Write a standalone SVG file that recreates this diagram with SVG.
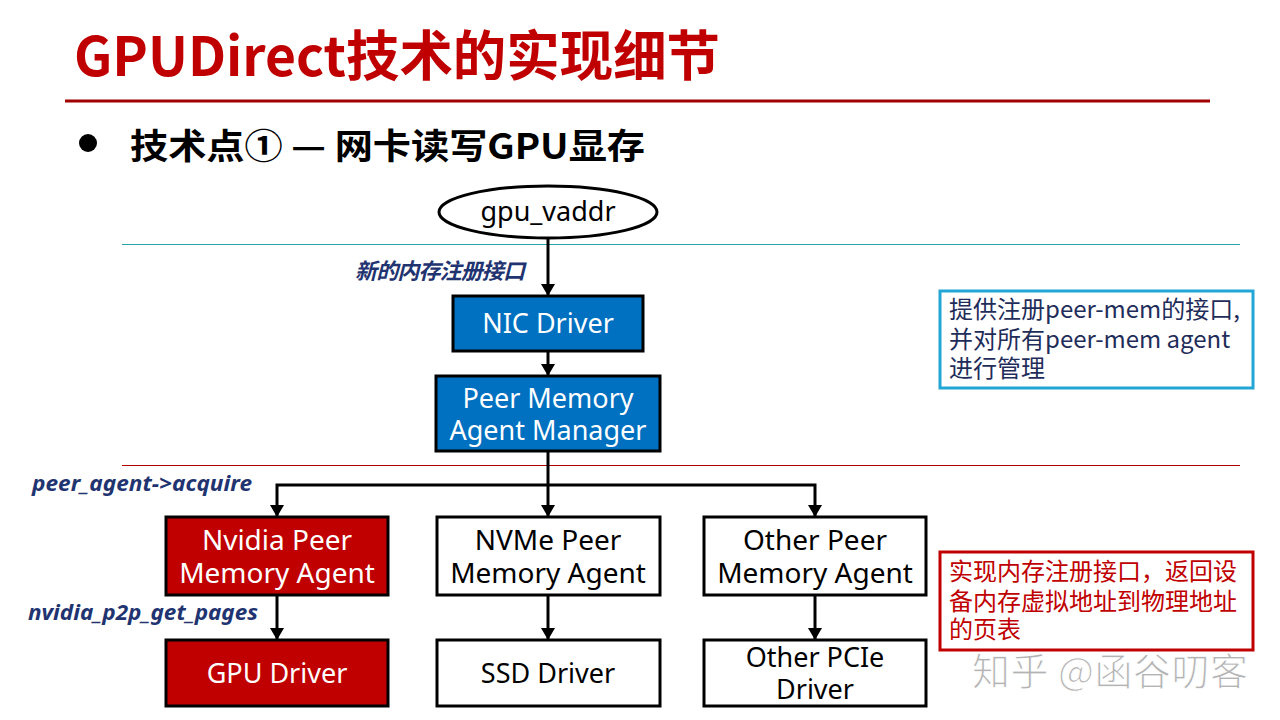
<svg xmlns="http://www.w3.org/2000/svg" width="1280" height="720" viewBox="0 0 1280 720">
<defs>
<marker id="arr" viewBox="0 0 12 14" refX="12" refY="7" markerWidth="12" markerHeight="14" markerUnits="userSpaceOnUse" orient="auto">
<path d="M0,0 L12,7 L0,14 Z" fill="#000"/>
</marker>
</defs>
<style>
.t{font-family:"Noto Sans","Noto Sans CJK SC",sans-serif;font-size:27px;text-anchor:middle}
.t2{font-size:28px}
.w{fill:#fff}
.k{fill:#000}
.blue{fill:#0070C0;stroke:#000;stroke-width:3}
.red{fill:#C00000;stroke:#000;stroke-width:3}
.wh{fill:#fff;stroke:#000;stroke-width:3}
.lbl{font-family:"Noto Sans","Noto Sans CJK SC",sans-serif;font-size:22px;font-weight:bold;font-style:italic;fill:#1F3470}
.c{fill:none;stroke:#000;stroke-width:3}
.note{font-family:"Noto Sans CJK SC","Noto Sans",sans-serif;font-size:24px}
</style>
<rect width="1280" height="720" fill="#fff"/>
<g id="title">
<text x="74" y="76" font-family="Noto Sans CJK SC, sans-serif" font-size="54" font-weight="bold" fill="#C00000" textLength="646" lengthAdjust="spacingAndGlyphs">GPUDirect技术的实现细节</text>
<line x1="65" y1="101" x2="1210" y2="101" stroke="#A00000" stroke-width="3"/>
</g>
<g id="subtitle">
<circle cx="88" cy="143" r="9" fill="#000"/>
<text x="130" y="159" font-family="Noto Sans CJK SC, sans-serif" font-size="35" font-weight="bold" fill="#000" textLength="515" lengthAdjust="spacingAndGlyphs">技术点① — 网卡读写GPU显存</text>
</g>
<g id="separators">
<line x1="122" y1="244.5" x2="1240" y2="244.5" stroke="#2AA5A5" stroke-width="1.2"/>
<line x1="122" y1="465.5" x2="1240" y2="465.5" stroke="#B00000" stroke-width="1.2"/>
</g>
<g id="connectors">
<path class="c" d="M548 238 V296" marker-end="url(#arr)"/>
<path class="c" d="M548 351 V376" marker-end="url(#arr)"/>
<path class="c" d="M548 451 V517" marker-end="url(#arr)"/>
<path class="c" d="M548 485 H277 V517" marker-end="url(#arr)"/>
<path class="c" d="M548 485 H815 V517" marker-end="url(#arr)"/>
<path class="c" d="M277 595 V640" marker-end="url(#arr)"/>
<path class="c" d="M548 595 V640" marker-end="url(#arr)"/>
<path class="c" d="M815 595 V640" marker-end="url(#arr)"/>
<text class="lbl" x="355" y="279" font-size="21" textLength="170">新的内存注册接口</text>
<text class="lbl" x="32" y="491" textLength="220" lengthAdjust="spacingAndGlyphs">peer_agent-&gt;acquire</text>
<text class="lbl" x="28" y="620" textLength="230" lengthAdjust="spacingAndGlyphs">nvidia_p2p_get_pages</text>
</g>
<g id="gpu_vaddr">
<ellipse cx="548" cy="212" rx="109" ry="26" fill="#fff" stroke="#000" stroke-width="3"/>
<text class="t k" x="548" y="221">gpu_vaddr</text>
</g>
<g id="nic_driver">
<rect class="blue" x="453" y="296" width="190" height="55"/>
<text class="t w" x="548" y="333">NIC Driver</text>
</g>
<g id="manager">
<rect class="blue" x="436" y="376" width="224" height="75"/>
<text class="t w" x="548" y="408">Peer Memory</text>
<text class="t w" x="548" y="440">Agent Manager</text>
</g>
<g id="nvidia_agent">
<rect class="red" x="166" y="517" width="222" height="78"/>
<text class="t t2 w" x="277" y="550">Nvidia Peer</text>
<text class="t t2 w" x="277" y="583">Memory Agent</text>
</g>
<g id="nvme_agent">
<rect class="wh" x="437" y="517" width="223" height="78"/>
<text class="t t2 k" x="548" y="550">NVMe Peer</text>
<text class="t t2 k" x="548" y="583">Memory Agent</text>
</g>
<g id="other_agent">
<rect class="wh" x="704" y="517" width="222" height="78"/>
<text class="t t2 k" x="815" y="550">Other Peer</text>
<text class="t t2 k" x="815" y="583">Memory Agent</text>
</g>
<g id="gpu_driver">
<rect class="red" x="166" y="640" width="222" height="66"/>
<text class="t w" x="277" y="683">GPU Driver</text>
</g>
<g id="ssd_driver">
<rect class="wh" x="437" y="640" width="223" height="66"/>
<text class="t k" x="548" y="683">SSD Driver</text>
</g>
<g id="other_pcie">
<rect class="wh" x="704" y="640" width="222" height="66"/>
<text class="t k" x="815" y="667">Other PCIe</text>
<text class="t k" x="815" y="699">Driver</text>
</g>
<g id="note_manager">
<rect x="940" y="291" width="313" height="97" fill="#fff" stroke="#22A6D6" stroke-width="3"/>
<text class="note" fill="#1F2D5A" x="949" y="318">提供注册peer-mem的接口,</text>
<text class="note" fill="#1F2D5A" x="949" y="348">并对所有peer-mem agent</text>
<text class="note" fill="#1F2D5A" x="949" y="377">进行管理</text>
</g>
<g id="note_agent">
<rect x="940" y="552" width="313" height="98" fill="#fff" stroke="#C00000" stroke-width="3"/>
<text class="note" fill="#C00000" x="949" y="580">实现内存注册接口，返回设</text>
<text class="note" fill="#C00000" x="949" y="610">备内存虚拟地址到物理地址</text>
<text class="note" fill="#C00000" x="949" y="638">的页表</text>
</g>
<g id="watermark">
<text x="972" y="685" font-family="Noto Sans CJK SC, sans-serif" font-size="38" fill="#9a9a9a" fill-opacity="0.75" stroke="#fff" stroke-width="1" textLength="276">知乎 @函谷叨客</text>
</g>
</svg>
